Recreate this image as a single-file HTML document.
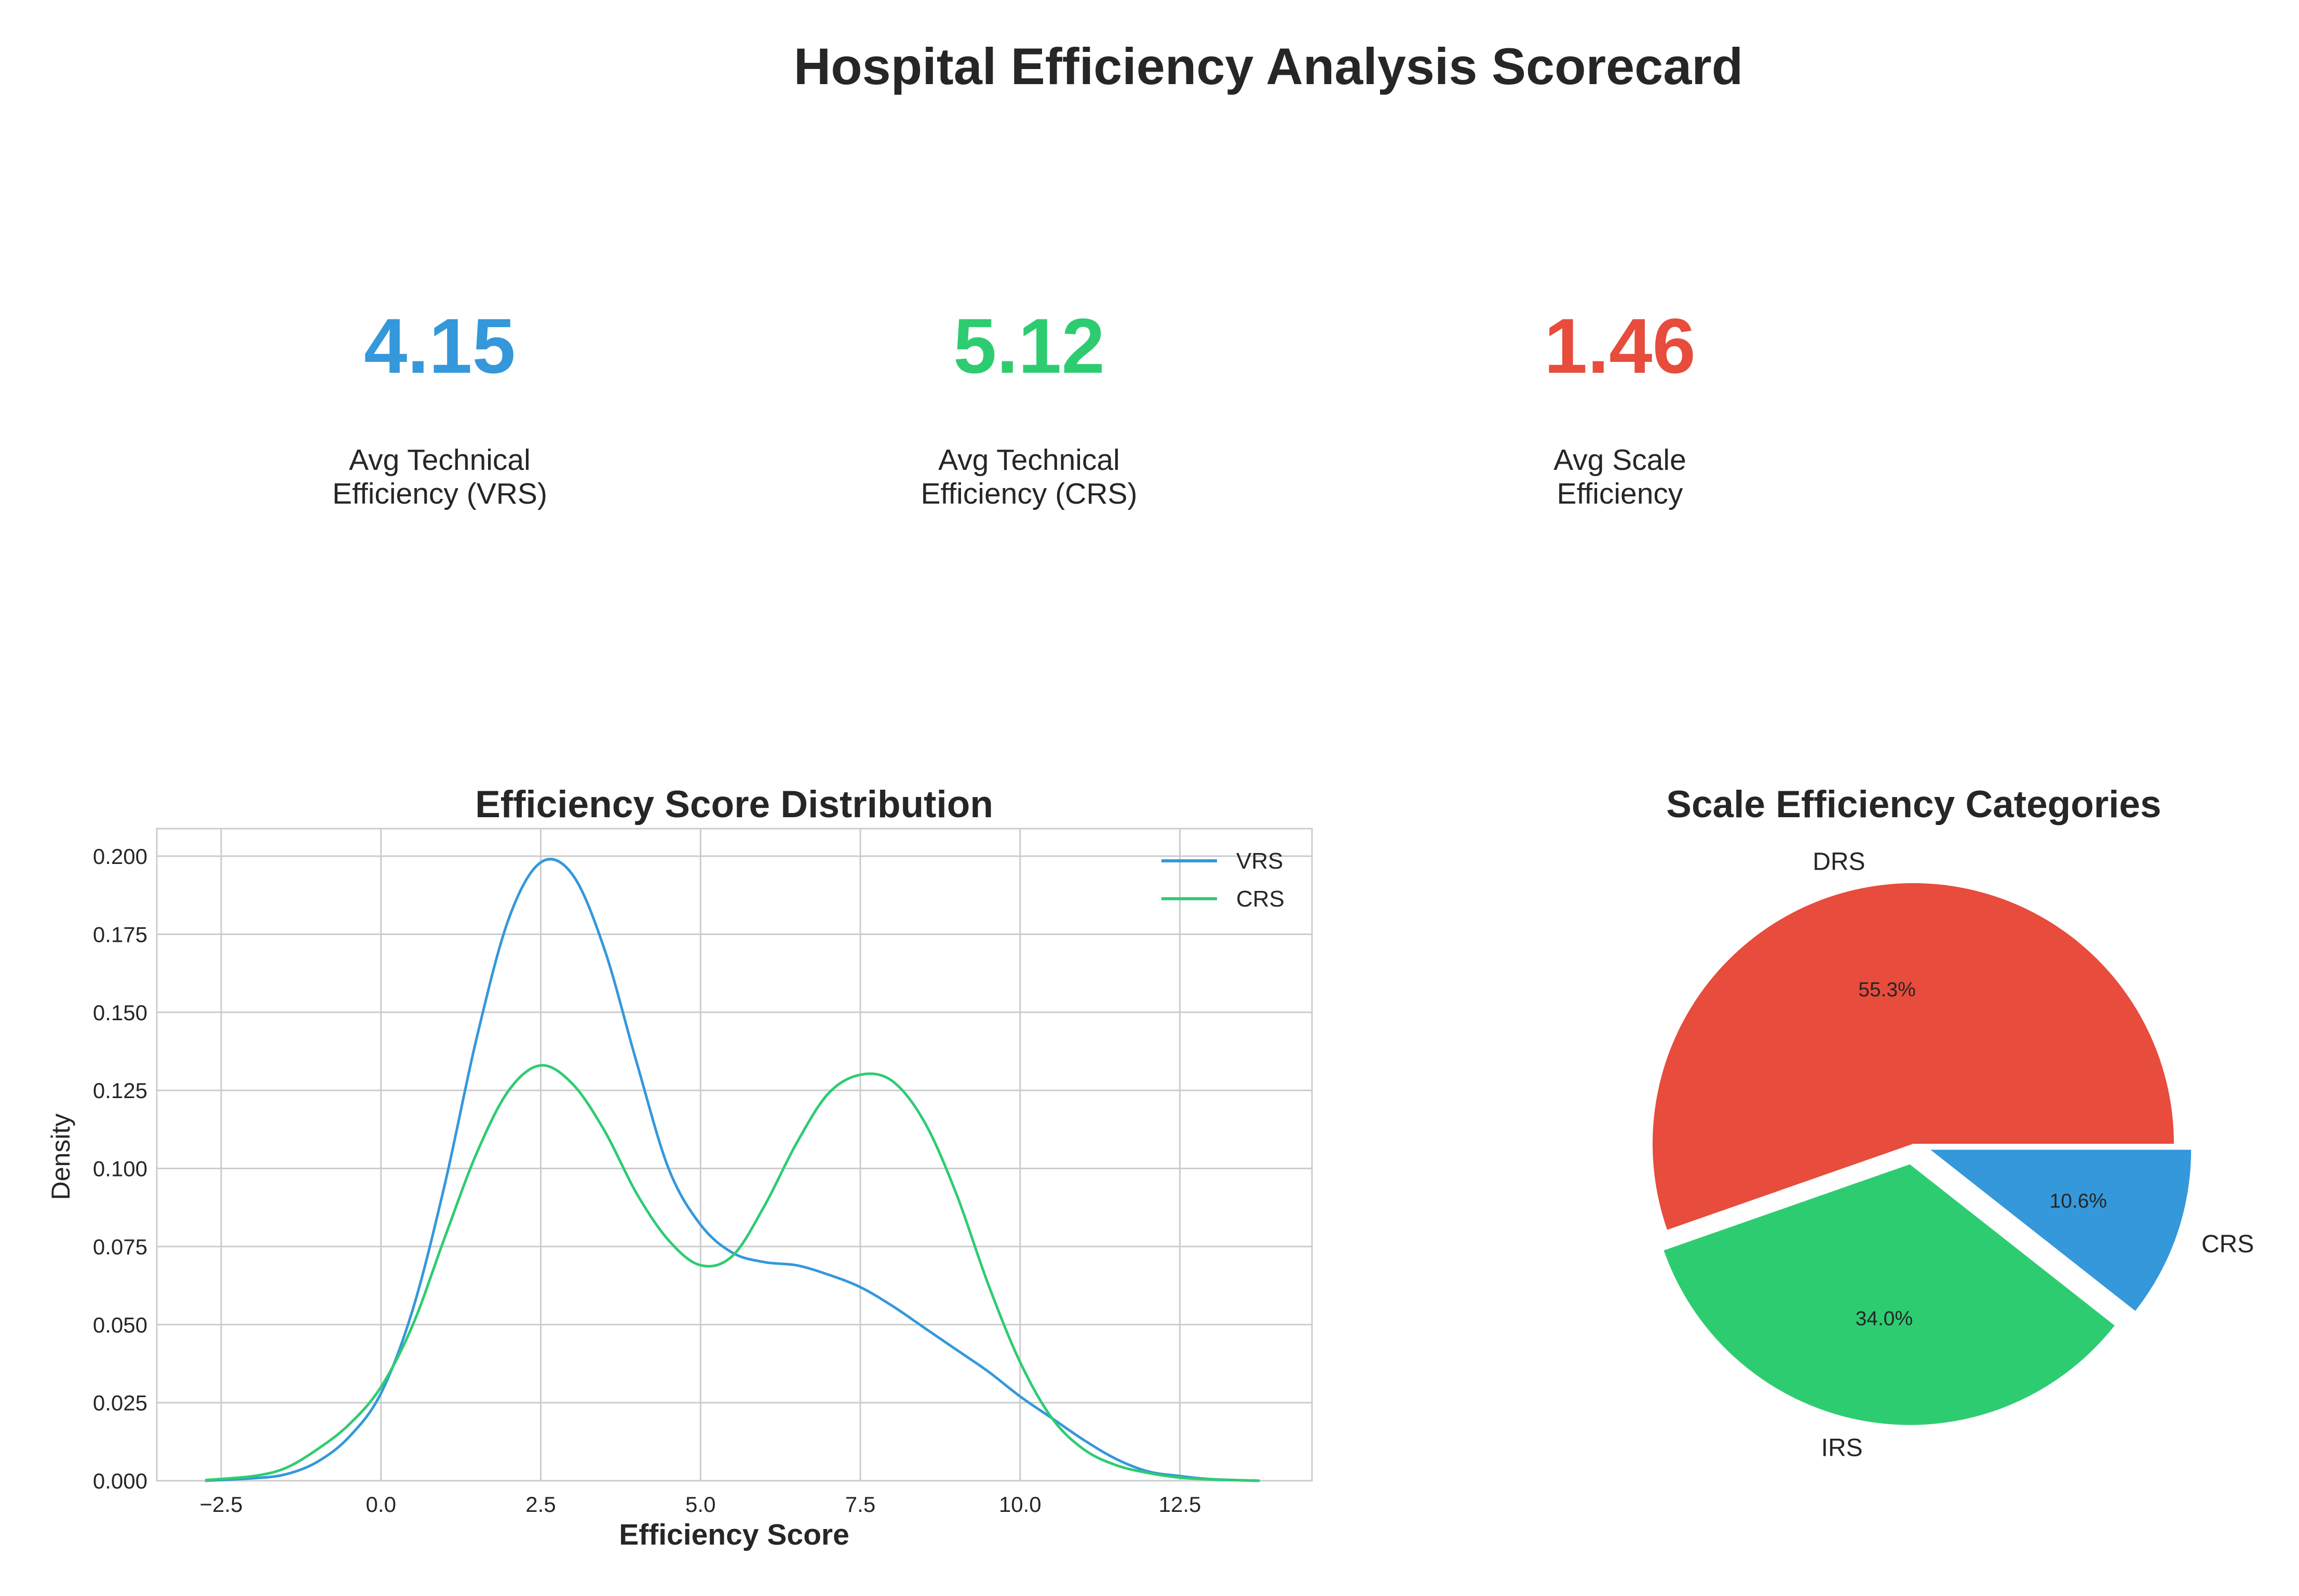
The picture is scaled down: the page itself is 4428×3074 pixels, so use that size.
<!DOCTYPE html>
<html><head><meta charset="utf-8"><style>
html,body{margin:0;padding:0;background:#fff;}
svg{display:block;font-family:"Liberation Sans",sans-serif;}
</style></head><body>
<svg id="chart" width="4428" height="3074" viewBox="0 0 4428 3074" xmlns="http://www.w3.org/2000/svg">
<rect width="4428" height="3074" fill="#fff"/>
<text x="2443" y="162" text-anchor="middle" font-size="99" font-weight="bold" fill="#262626">Hospital Efficiency Analysis Scorecard</text>
<g>
<text x="847" y="718" text-anchor="middle" font-size="150" font-weight="bold" fill="#3498db">4.15</text>
<text x="847" y="905" text-anchor="middle" font-size="57" fill="#262626"><tspan x="847">Avg Technical</tspan><tspan x="847" dy="65">Efficiency (VRS)</tspan></text>
</g>
<g>
<text x="1982" y="718" text-anchor="middle" font-size="150" font-weight="bold" fill="#2ecc71">5.12</text>
<text x="1982" y="905" text-anchor="middle" font-size="57" fill="#262626"><tspan x="1982">Avg Technical</tspan><tspan x="1982" dy="65">Efficiency (CRS)</tspan></text>
</g>
<g>
<text x="3120" y="718" text-anchor="middle" font-size="150" font-weight="bold" fill="#e74c3c">1.46</text>
<text x="3120" y="905" text-anchor="middle" font-size="57" fill="#262626"><tspan x="3120">Avg Scale</tspan><tspan x="3120" dy="65">Efficiency</tspan></text>
</g>
<g id="kde"></g>
<g id="pie"></g>
</svg>
<script>
const xs = [-2.75,-2,-1.5,-1,-0.5,0,0.5,1,1.5,2,2.5,3,3.5,4,4.5,5,5.5,6,6.5,7,7.5,8,8.5,9,9.5,10,10.5,11,11.5,12,12.5,13,13.75];
const vrsVals = [0,0.0008,0.002,0.006,0.014,0.028,0.055,0.095,0.142,0.180,0.198,0.194,0.170,0.134,0.100,0.082,0.073,0.070,0.069,0.066,0.062,0.056,0.049,0.042,0.035,0.027,0.020,0.013,0.007,0.003,0.0015,0.0005,0];
const crsVals = [0.0002,0.0015,0.004,0.010,0.018,0.030,0.050,0.078,0.105,0.125,0.133,0.127,0.112,0.092,0.077,0.069,0.072,0.088,0.108,0.124,0.130,0.128,0.115,0.092,0.063,0.038,0.020,0.010,0.005,0.0025,0.001,0.0004,0];
const xTicks = [-2.5,0,2.5,5,7.5,10,12.5];
const xTickLabels = ["\u22122.5","0.0","2.5","5.0","7.5","10.0","12.5"];
const yTicks = [0,0.025,0.05,0.075,0.1,0.125,0.15,0.175,0.2];
const yTickLabels = ["0.000","0.025","0.050","0.075","0.100","0.125","0.150","0.175","0.200"];
const pieLabels = ["DRS","IRS","CRS"];
const pieValues = [55.3,34.0,10.6];
const pieExplode = [0,0.08,0.07];
const pieColors = ["#e74c3c","#2ecc71","#3498db"];

const NS="http://www.w3.org/2000/svg";
function mk(tag, attrs, parent, text){const e=document.createElementNS(NS,tag);for(const k in attrs)e.setAttribute(k,attrs[k]);if(text!==undefined)e.textContent=text;parent.appendChild(e);return e;}
const L=302,R=2527,T=1596,B=2852;
function sx(v){return 426+(v+2.5)*123.1;}
function sy(v){return 2852-v*(2852-1649)/0.2;}
const kde=document.getElementById('kde');
xTicks.forEach((t,i)=>{
  const g=mk('line',{x1:sx(t),x2:sx(t),y1:T,y2:B,stroke:'#cccccc','stroke-width':3},kde);
  
  
  const tl=mk('text',{x:sx(t),y:B+60,'text-anchor':'middle','font-size':42,fill:'#262626'},kde,xTickLabels[i]);
  
  
});
yTicks.forEach((t,i)=>{
  const g=mk('line',{x1:L,x2:R,y1:sy(t),y2:sy(t),stroke:'#cccccc','stroke-width':3},kde);
  
  
  const tl=mk('text',{x:L-18,y:sy(t)+15,'text-anchor':'end','font-size':42,fill:'#262626'},kde,yTickLabels[i]);
  
  
});
const fr=mk('rect',{x:L,y:T,width:R-L,height:B-T,fill:'none',stroke:'#cccccc','stroke-width':3},kde);


function smooth(vals){
  const p=xs.map((x,i)=>[sx(x),sy(vals[i])]);
  let d='M'+p[0][0]+','+p[0][1];
  for(let i=0;i<p.length-1;i++){
    const p0=p[Math.max(0,i-1)],p1=p[i],p2=p[i+1],p3=p[Math.min(p.length-1,i+2)];
    const c1=[p1[0]+(p2[0]-p0[0])/6,p1[1]+(p2[1]-p0[1])/6];
    const c2=[p2[0]-(p3[0]-p1[0])/6,p2[1]-(p3[1]-p1[1])/6];
    d+=' C'+c1[0]+','+c1[1]+' '+c2[0]+','+c2[1]+' '+p2[0]+','+p2[1];
  }
  return d;
}
const lv=mk('path',{d:smooth(vrsVals),fill:'none',stroke:'#3498db','stroke-width':5},kde);


const lc=mk('path',{d:smooth(crsVals),fill:'none',stroke:'#2ecc71','stroke-width':5},kde);


[["VRS","#3498db",1658],["CRS","#2ecc71",1731]].forEach(a=>{
  const g=mk('g',{},kde);
  
  
  mk('line',{x1:2237,x2:2344,y1:a[2],y2:a[2],stroke:a[1],'stroke-width':6},g);
  mk('text',{x:2381,y:a[2]+15,'font-size':44,fill:'#262626'},g,a[0]);
});
const t1=mk('text',{x:1414,y:1574,'text-anchor':'middle','font-size':73,'font-weight':'bold',fill:'#262626'},kde,'Efficiency Score Distribution');


const xl=mk('text',{x:1414,y:2975,'text-anchor':'middle','font-size':57,'font-weight':'bold',fill:'#262626'},kde,'Efficiency Score');


const yl=mk('text',{x:134,y:2228,'text-anchor':'middle','font-size':50,fill:'#262626',transform:'rotate(-90 134 2228)'},kde,'Density');



// pie
const pie=document.getElementById('pie');
const cx=3685,cy=2203,r=502;
const total=pieValues.reduce((a,b)=>a+b,0);
let ang=0;
pieValues.forEach((v,i)=>{
  const a0=ang,a1=ang+v/total*360; ang=a1;
  const mid=(a0+a1)/2*Math.PI/180;
  const ox=cx+pieExplode[i]*r*Math.cos(mid), oy=cy-pieExplode[i]*r*Math.sin(mid);
  const p0=[ox+r*Math.cos(a0*Math.PI/180),oy-r*Math.sin(a0*Math.PI/180)];
  const p1=[ox+r*Math.cos(a1*Math.PI/180),oy-r*Math.sin(a1*Math.PI/180)];
  const large=(a1-a0)>180?1:0;
  const s=mk('path',{d:`M${ox},${oy} L${p0[0]},${p0[1]} A${r},${r} 0 ${large} 0 ${p1[0]},${p1[1]} Z`,fill:pieColors[i]},pie);
  
  
  const lx=ox+1.1*r*Math.cos(mid), ly=oy-1.1*r*Math.sin(mid);
  const anchor=Math.cos(mid)>0.05?'start':(Math.cos(mid)<-0.05?'end':'middle');
  const lt=mk('text',{x:lx,y:ly+17,'text-anchor':anchor,'font-size':48,fill:'#262626'},pie,pieLabels[i]);
  
  
  const px=ox+0.6*r*Math.cos(mid), py=oy-0.6*r*Math.sin(mid);
  const pt=mk('text',{x:px,y:py+13,'text-anchor':'middle','font-size':39,fill:'#262626'},pie,v.toFixed(1)+'%');
  
  
});
const t2=mk('text',{x:3686,y:1574,'text-anchor':'middle','font-size':73,'font-weight':'bold',fill:'#262626'},pie,'Scale Efficiency Categories');


</script>
</body></html>
